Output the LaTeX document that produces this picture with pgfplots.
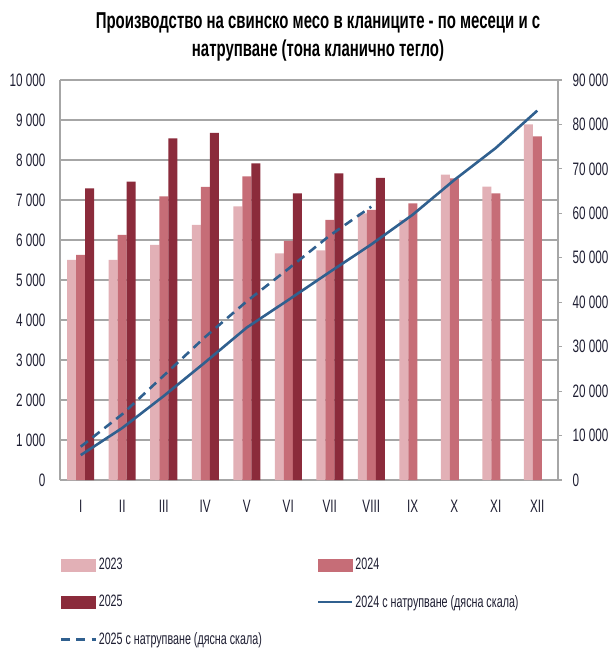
\documentclass[border=0pt]{standalone}
\usepackage{fontspec}
\setmainfont{Liberation Sans}[FakeStretch=0.65]
\usepackage{pgfplots}
\pgfplotsset{compat=1.18}
\definecolor{cA}{HTML}{E2B0B6}
\definecolor{cB}{HTML}{C66D77}
\definecolor{cC}{HTML}{8B2B3B}
\definecolor{cL}{HTML}{30608F}
\definecolor{gridc}{HTML}{A6A6A6}
\definecolor{txt}{HTML}{1E1E32}
\pgfplotsset{
  mylinelegend/.style={legend image code/.code={\draw[##1] (0pt,0pt) -- (34pt,0pt);}},
  myboxA/.style={legend image code/.code={\fill[cA] (0pt,-6pt) rectangle (34pt,6pt);}},
  myboxB/.style={legend image code/.code={\fill[cB] (0pt,-6pt) rectangle (34pt,6pt);}},
  myboxC/.style={legend image code/.code={\fill[cC] (0pt,-6pt) rectangle (34pt,6pt);}},
}
\begin{document}
\begin{tikzpicture}
\path[use as bounding box] (-60pt,-168pt) rectangle (551pt,480pt);
\node[font=\fontsize{23}{28}\selectfont\bfseries, align=center, text=black] at (258pt,443pt)
  {Производство на свинско месо в кланиците - по месеци и с\\натрупване (тона кланично тегло)};
\begin{axis}[
  scale only axis, width=498pt, height=400pt,
  xmin=-0.5, xmax=11.5, ymin=0, ymax=10000,
  ybar=0pt, bar width=9pt,
  axis x line*=bottom, axis y line*=left,
  axis line style={-, draw=gridc, line width=1.2pt},
  xtick={0,...,11},
  xticklabels={I,II,III,IV,V,VI,VII,VIII,IX,X,XI,XII},
  ytick={0,1000,...,10000},
  scaled y ticks=false,
  ymajorgrids, grid style={draw=gridc, line width=1.2pt},
  tick style={draw=none},
  tick label style={font=\fontsize{18}{21}\selectfont, text=txt},
  /pgf/number format/assume math mode=true,
  /pgf/number format/1000 sep={\ },
  xticklabel style={yshift=-12pt},
  yticklabel style={xshift=-11pt},
]
\addplot[fill=cA, draw=none] coordinates {(0,5500)(1,5500)(2,5875)(3,6375)(4,6840)(5,5665)(6,5740)(7,6665)(8,6500)(9,7635)(10,7335)(11,8890)};
\addplot[fill=cB, draw=none] coordinates {(0,5625)(1,6125)(2,7090)(3,7330)(4,7590)(5,5975)(6,6500)(7,6750)(8,6915)(9,7540)(10,7165)(11,8590)};
\addplot[fill=cC, draw=none] coordinates {(0,7290)(1,7460)(2,8540)(3,8675)(4,7915)(5,7165)(6,7665)(7,7550)};
\end{axis}
\begin{axis}[
  scale only axis, width=498pt, height=400pt,
  xmin=-0.5, xmax=11.5, ymin=0, ymax=90000,
  axis x line=none, axis y line*=right,
  axis line style={-, draw=gridc, line width=1.2pt},
  ytick={0,10000,...,90000},
  scaled y ticks=false,
  tick align=outside, major tick length=4pt,
  ytick style={draw=gridc, line width=1.2pt},
  tick label style={font=\fontsize{18}{21}\selectfont, text=txt},
  /pgf/number format/assume math mode=true,
  /pgf/number format/1000 sep={\ },
  yticklabel style={xshift=7pt},
  legend columns=2,
  legend cell align=left,
  legend style={at={(0,-0.19)}, anchor=north west, draw=none, fill=none,
    font=\fontsize{16.5}{19}\selectfont, text=txt,
    /tikz/every even column/.append style={column sep=53pt},
    row sep=20pt, inner sep=0pt},
]
\addlegendimage{myboxA}
\addlegendentry{2023}
\addlegendimage{myboxB}
\addlegendentry{2024}
\addlegendimage{myboxC}
\addlegendentry{2025}
\addplot[cL, line width=2.6pt, mylinelegend]
  coordinates {(0,5600)(1,11700)(2,18900)(3,26500)(4,34300)(5,40500)(6,46800)(7,53000)(8,59700)(9,67500)(10,74700)(11,83100)};
\addlegendentry{2024 с натрупване (дясна скала)}
\addplot[cL, line width=2.6pt, dash pattern=on 9pt off 6pt, mylinelegend]
  coordinates {(0,7500)(1,14800)(2,23500)(3,32200)(4,40200)(5,47500)(6,55000)(7,61500)};
\addlegendentry{2025 с натрупване (дясна скала)}
\end{axis}
\end{tikzpicture}
\end{document}
